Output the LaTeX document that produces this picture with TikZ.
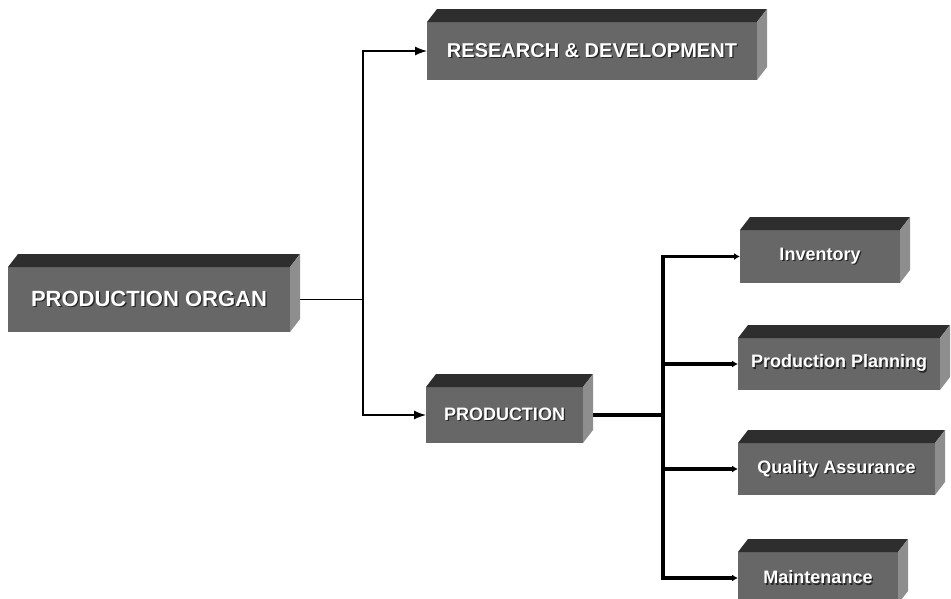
\documentclass[tikz,border=0pt]{standalone}
\usepackage{fontspec}
\setmainfont{Liberation Sans}
\usepackage{xcolor}
\usepackage{tikz}
\usetikzlibrary{arrows.meta}
\definecolor{slabfront}{HTML}{676767}
\definecolor{slabtop}{HTML}{2E2E2E}
\definecolor{slabside}{HTML}{8E8E8E}
% white caption with a dark drop shadow
\newcommand{\shadetext}[1]{\leavevmode\rlap{\hspace{1.3pt}\raisebox{-1.3pt}{\color{black!85}#1}}{\color{white}#1}}

\begin{document}
\begin{tikzpicture}[x=1pt,y=-1pt,
            every node/.style={inner sep=0pt, outer sep=0pt},
            slab/.style={fill=slabfront},
            big/.style={font=\bfseries\fontsize{20}{22}\selectfont},
            small/.style={font=\bfseries\fontsize{18}{20}\selectfont},
            thinl/.style={draw=black, line width=1.3pt},
            thickl/.style={draw=black, line width=3.6pt},
            tipthin/.style={-{Latex[length=12pt,width=9pt]}},
            tipthick/.style={{Latex[length=6pt,width=7pt]}-{Latex[length=6pt,width=7pt]}}
        ]
        \useasboundingbox (0,0) rectangle (951,598);

        % =============== front faces ===============
        \node[slab, minimum width=282, minimum height=65, font=\bfseries\fontsize{22}{24}\selectfont]
            (organ) at (149,299.5) {\shadetext{PRODUCTION ORGAN}};
        \node[slab, big, minimum width=330, minimum height=58] (rnd) at (592,51)
            {\shadetext{RESEARCH \& DEVELOPMENT}};
        \node[slab, small, minimum width=157, minimum height=56] (prod) at (504.5,415)
            {\shadetext{PRODUCTION}};

        \node[slab, small, minimum width=160, minimum height=53] (inv) at (820,256.5)
            {\shadetext{Inventory}};
        \node[slab, small, minimum width=202, minimum height=52] (plan) at (839,364)
            {\shadetext{Production Planning}};
        \node[slab, small, minimum width=197, minimum height=52] (qa) at (836.5,469)
            {\shadetext{Quality Assurance}};
        \node[slab, small, minimum width=160, minimum height=52] (maint) at (818,578)
            {\shadetext{Maintenance}};

        % =============== connectors ===============
        \coordinate (fork) at (363,299.5);
        \coordinate (trunk) at (663,415);

        \draw[thinl] (organ.east) -- (fork);
        \draw[thinl, tipthin] (fork) |- (rnd.west);
        \draw[thinl, tipthin] (fork) |- (prod.west);

        \draw[thickl] (prod.east) -- (trunk);
        \draw[thickl, tipthick] (inv.west) -| (trunk) |- (maint.west);
        \draw[thickl, -{Latex[length=6pt,width=7pt]}] (trunk |- plan.west) -- (plan.west);
        \draw[thickl, -{Latex[length=6pt,width=7pt]}] (trunk |- qa.west) -- (qa.west);

        % =============== top and side faces ===============
        \foreach \n in {organ,rnd,prod,inv,plan,qa,maint}{
            \fill[slabtop] (\n.north west) -- ([shift={(10,-13)}]\n.north west)
                -- ([shift={(10,-13)}]\n.north east) -- (\n.north east) -- cycle;
            \fill[slabside] (\n.north east) -- ([shift={(10,-13)}]\n.north east)
                -- ([shift={(10,-13)}]\n.south east) -- (\n.south east) -- cycle;
        }
    \end{tikzpicture}
\end{document}
